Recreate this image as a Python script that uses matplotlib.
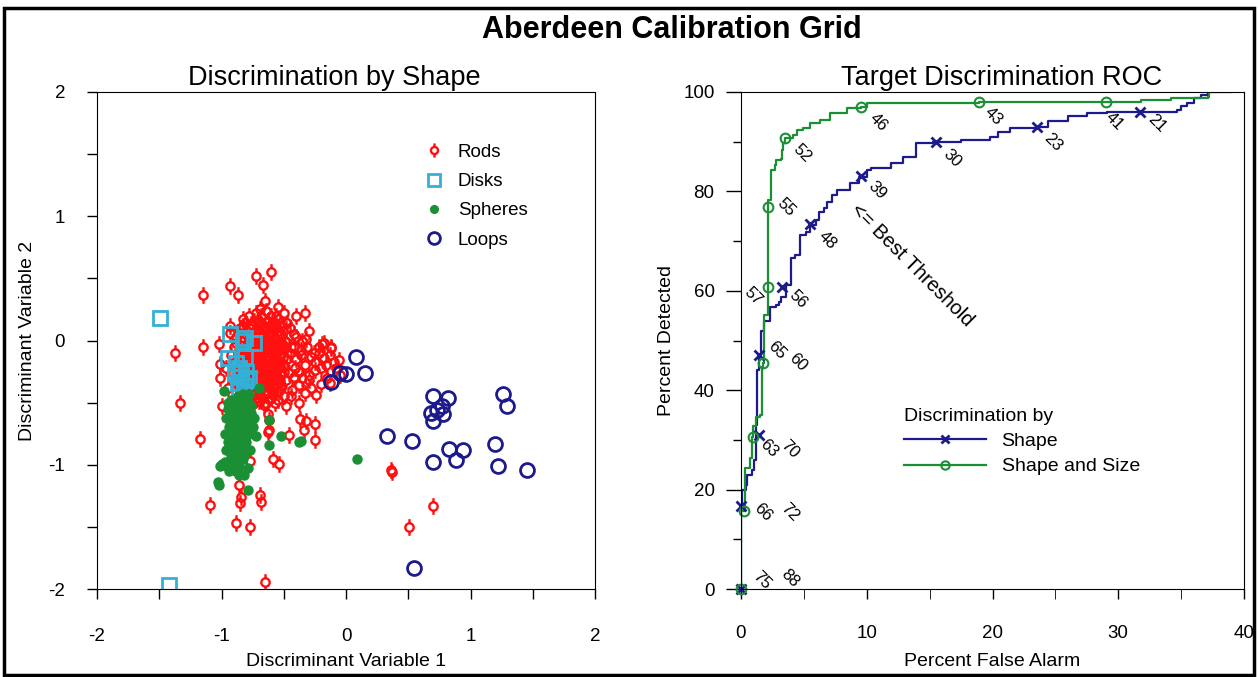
import matplotlib.pyplot as plt
import numpy as np
from matplotlib.path import Path
from matplotlib.lines import Line2D
from matplotlib.patches import Rectangle

plt.rcParams['font.family'] = ['Liberation Sans', 'DejaVu Sans']
plt.rcParams['axes.unicode_minus'] = False

# ---- scatter data (Discriminant Variable 1, Discriminant Variable 2) ----
rods_x = [-0.60, -0.72, -0.67, -0.93, -0.87, -1.15, -0.65, -0.55, -0.50, -0.56, -0.40, -0.33,
          -0.83, -0.70, -0.93, -0.62, -0.48, -0.32, -1.15, -1.37, -1.02, -0.19, -0.12, -1.01,
          -1.01, -1.33, -1.00, -1.17, -0.63, -0.63, -0.62, -0.46, -0.25, -0.32, -0.34, -0.25,
          -0.37, -0.77, -0.59, -0.54, -0.86, -0.84, -0.69, -1.09, -0.85, -0.68, -0.88, -0.77,
          -0.65, 0.36, 0.37, 0.70, 0.51,
          -0.48, -0.42, -0.36, -0.26, -0.18, -0.12, -0.18, -0.10, -0.06, -0.25, -0.33, -0.41,
          -0.46, -0.25, -0.30, -0.38, -0.33, -0.24, -0.28, -0.48, -0.52, -0.44, -0.38, -0.48,
          -0.57, -0.62, -0.05, -0.08, -0.15, -0.20, -0.45, -0.40, -0.35, -0.52, -0.45, -0.40,
          -0.13, -0.22, -0.30,
          -0.85, -0.80, -0.75, -0.70, -0.65, -0.60, -0.55, -0.88, -0.82, -0.77, -0.72, -0.67,
          -0.62, -0.57, -0.52, -0.90, -0.85, -0.79, -0.74, -0.69, -0.64, -0.59, -0.54, -0.50,
          -0.92, -0.87, -0.82, -0.76, -0.71, -0.66, -0.61, -0.56, -0.51, -0.89, -0.84, -0.78,
          -0.73, -0.68, -0.63, -0.58, -0.53, -0.91, -0.86, -0.80, -0.75, -0.70, -0.65, -0.60,
          -0.55, -0.88, -0.83, -0.77, -0.72, -0.67, -0.62, -0.57, -0.85, -0.79, -0.74, -0.69,
          -0.64, -0.59, -0.95, -0.96, -0.93, -0.80, -0.70, -0.66, -0.74, -0.68, -0.63, -0.58,
          -0.64, -0.78, -0.88,
          -0.83, -0.78, -0.73, -0.68, -0.63, -0.58, -0.86, -0.80, -0.75, -0.70, -0.65, -0.60,
          -0.55, -0.88, -0.82, -0.77, -0.72, -0.67, -0.62, -0.57, -0.52, -0.85, -0.80, -0.74,
          -0.69, -0.64, -0.59, -0.54, -0.87, -0.81, -0.76, -0.71, -0.66, -0.61, -0.56, -0.84,
          -0.79, -0.73, -0.68, -0.63, -0.58, -0.53, -0.86, -0.81, -0.75, -0.70, -0.65, -0.60,
          -0.77, -0.72, -0.67, -0.62, -0.50, -0.47, -0.44, -0.42, -0.38, -0.36, -0.31, -0.28,
          -0.22, -0.20, -0.35, -0.43, -0.50, -0.53, -0.49, -0.47, -0.55, -0.60, -0.69, -0.72,
          -0.52, -0.42, -0.30, -0.16, -0.13,
          -0.81, -0.76, -0.71, -0.66, -0.61, -0.56,
          -0.84, -0.79, -0.74, -0.69, -0.64, -0.59, -0.54,
          -0.86, -0.81, -0.76, -0.71, -0.66, -0.61, -0.56, -0.51,
          -0.83, -0.78, -0.73, -0.68, -0.63, -0.58, -0.53,
          -0.80, -0.75, -0.70, -0.65, -0.60, -0.55, -0.50,
          -0.82, -0.77, -0.72, -0.67, -0.62, -0.57, -0.52,
          -0.79, -0.74, -0.69, -0.64, -0.59, -0.54,
          -0.75, -0.70, -0.65, -0.60, -0.55]
rods_y = [0.55, 0.52, 0.45, 0.44, 0.37, 0.37, 0.32, 0.27, 0.22, 0.20, 0.20, 0.22,
          0.17, 0.16, 0.12, 0.12, 0.09, 0.01, -0.05, -0.10, -0.03, -0.03, -0.06, -0.19,
          -0.30, -0.50, -0.53, -0.79, -0.59, -0.74, -0.72, -0.76, -0.80, -0.65, -0.72, -0.67,
          -0.63, -0.97, -0.95, -0.99, -1.16, -1.26, -1.24, -1.32, -1.31, -1.30, -1.47, -1.50,
          -1.94, -1.04, -1.06, -1.33, -1.50,
          -0.01, -0.05, -0.08, -0.10, -0.02, -0.05, -0.14, -0.17, -0.16, -0.17, -0.20, -0.22,
          -0.26, -0.24, -0.32, -0.36, -0.42, -0.44, -0.38, -0.32, -0.38, -0.45, -0.50, -0.53,
          -0.50, -0.64, -0.28, -0.22, -0.30, -0.35, -0.10, -0.15, 0.00, 0.05, 0.10, 0.03,
          -0.34, -0.05, 0.08,
          0.10, 0.08, 0.12, 0.09, 0.10, 0.07, 0.08, 0.03, 0.02, 0.04, 0.01, 0.03,
          0.00, 0.02, -0.01, -0.05, -0.04, -0.06, -0.03, -0.07, -0.04, -0.08, -0.05, -0.07,
          -0.12, -0.10, -0.13, -0.11, -0.14, -0.10, -0.13, -0.11, -0.14, -0.18, -0.20, -0.17,
          -0.21, -0.18, -0.22, -0.19, -0.21, -0.26, -0.27, -0.25, -0.28, -0.26, -0.29, -0.27,
          -0.30, -0.34, -0.33, -0.35, -0.32, -0.36, -0.34, -0.37, -0.41, -0.42, -0.40, -0.43,
          -0.41, -0.44, -0.38, -0.22, 0.06, -0.48, -0.49, -0.52, 0.16, 0.20, 0.16, 0.14,
          0.24, 0.20, -0.47,
          0.12, 0.10, 0.06, 0.13, 0.05, 0.10, 0.06, 0.05, 0.00, 0.04, -0.01, 0.03,
          -0.02, -0.02, -0.08, -0.03, -0.09, -0.05, -0.09, -0.06, -0.10, -0.15, -0.10, -0.16,
          -0.12, -0.16, -0.15, -0.17, -0.23, -0.20, -0.24, -0.23, -0.21, -0.24, -0.25, -0.29,
          -0.31, -0.30, -0.31, -0.28, -0.32, -0.33, -0.37, -0.39, -0.37, -0.39, -0.35, -0.40,
          -0.45, -0.46, -0.46, -0.47, -0.20, -0.15, -0.05, -0.29, -0.25, -0.12, -0.05, -0.13,
          -0.10, -0.22, -0.30, -0.40, -0.45, -0.27, 0.00, 0.14, 0.17, 0.20, 0.25, 0.22,
          0.12, 0.05, -0.28, -0.20, -0.12,
          0.14, 0.13, 0.15, 0.11, 0.12, 0.13,
          0.00, -0.01, 0.02, -0.02, 0.01, -0.03, 0.04,
          -0.08, -0.06, -0.07, -0.05, -0.07, -0.06, -0.08, -0.04,
          -0.16, -0.14, -0.12, -0.15, -0.13, -0.17, -0.12,
          -0.22, -0.20, -0.19, -0.24, -0.20, -0.23, -0.25,
          -0.31, -0.28, -0.34, -0.29, -0.31, -0.28, -0.36,
          -0.38, -0.42, -0.37, -0.43, -0.36, -0.41,
          -0.51, -0.44, -0.50, -0.46, -0.48]

disks_x = [-1.49, -1.42, -0.93, -0.81, -0.74, -0.83, -0.95, -0.88, -0.81, -0.86, -0.80,
           -0.89, -0.84, -0.78, -0.87, -0.82, -0.86, -0.80, -0.84]
disks_y = [0.18, -1.97, 0.05, 0.02, -0.02, 0.00, -0.14, -0.18, -0.13, -0.22, -0.25,
           -0.26, -0.29, -0.30, -0.34, -0.37, -0.40, -0.32, -0.25]

spheres_x = [-0.87, -0.84, -0.80, -0.86, -0.82, -0.78, -0.88, -0.84, -0.80, -0.76, -0.90,
             -0.86, -0.82, -0.78, -0.92, -0.88, -0.84, -0.80, -0.90, -0.86, -0.82, -0.78,
             -0.92, -0.88, -0.84, -0.80, -0.91, -0.87, -0.83, -0.93, -0.89, -0.85, -0.97,
             -0.93, -0.89, -0.85, -0.95, -0.90, -0.86, -1.00, -1.03, -1.02, -0.79, -0.79,
             -0.62, -0.72, -0.52, -0.38, -0.62, -0.70, -0.98, -0.36, 0.09, -0.95, -0.75,
             -0.77, -0.77,
             -0.95, -0.92, -0.90, -0.93, -0.96, -0.94, -0.97, -0.95, -0.96, -0.92, -0.98,
             -1.01, -0.94, -0.88, -0.82, -0.86, -0.76, -0.74, -0.76, -0.78, -0.83, -0.81,
             -0.83, -0.80, -0.87, -0.89, -0.85, -0.87, -0.85, -0.89]
spheres_y = [-0.45, -0.47, -0.46, -0.50, -0.52, -0.50, -0.55, -0.56, -0.55, -0.58, -0.60,
             -0.62, -0.60, -0.63, -0.66, -0.68, -0.66, -0.69, -0.72, -0.74, -0.72, -0.75,
             -0.78, -0.80, -0.78, -0.82, -0.85, -0.87, -0.85, -0.90, -0.92, -0.90, -0.98,
             -0.97, -0.99, -0.96, -1.02, -1.04, -1.02, -0.99, -1.14, -1.16, -1.20, -1.03,
             -0.64, -0.77, -0.77, -0.82, -0.84, -0.38, -0.41, -0.81, -0.95, -0.55, -0.70,
             -0.88, -0.53,
             -0.50, -0.48, -0.52, -0.57, -0.62, -0.70, -0.75, -0.82, -0.88, -0.94, -1.00,
             -1.01, -1.05, -1.05, -1.08, -1.08, -0.66, -0.62, -0.53, -0.43, -0.43, -0.91,
             -0.95, -0.77, -0.57, -0.64, -0.70, -0.76, -0.83, -0.88]

loops_x = [0.08, 0.15, -0.05, 0.00, -0.12, 0.70, 0.82, 0.77, 0.73, 0.68, 0.78, 0.70,
           1.26, 1.29, 0.33, 0.53, 0.83, 0.94, 0.88, 0.70, 1.20, 1.22, 1.45, 0.55]
loops_y = [-0.13, -0.26, -0.26, -0.27, -0.33, -0.45, -0.46, -0.53, -0.56, -0.58, -0.59, -0.65,
           -0.43, -0.53, -0.77, -0.81, -0.87, -0.88, -0.96, -0.98, -0.83, -1.01, -1.04, -1.83]

# ---- ROC curves (Percent False Alarm, Percent Detected) ----
shape_fa = [0, 0, 0.1, 0.4, 0.5, 0.9, 1.0, 1.2, 1.2, 1.3, 1.3, 1.4, 1.6, 1.6, 1.8, 2.3,
            2.8, 3.0, 3.2, 3.6, 4.0, 4.0, 4.3, 4.7, 4.7, 5.2, 5.5, 6.0, 6.2, 6.6, 6.8,
            7.2, 7.6, 8.7, 9.4, 10.0, 10.3, 11.9, 12.9, 13.9, 15.3, 15.5, 17.5, 19.8, 20.4,
            21.4, 23.5, 24.4, 26.0, 27.5, 29.1, 31.7, 34.7, 35.0, 35.5, 36.0, 36.6, 37.1, 39.0]
shape_det = [0, 16.7, 20, 21, 23, 24, 26, 27, 33, 35, 44, 47, 47, 52, 54, 56.8,
             57.1, 57.8, 58.8, 61.2, 62.5, 66.5, 67.2, 68.5, 71.2, 71.9, 73.2, 74.2, 75.9, 76.6, 77.9,
             79.3, 80.3, 81.6, 82.9, 84.3, 84.8, 85.8, 87.0, 89.7, 89.9, 90.0, 90.3, 90.9, 92.0,
             92.7, 93.0, 94.2, 95.2, 95.7, 95.9, 96.0, 96.4, 97.1, 97.7, 98.7, 99.4, 99.9, 99.9]
size_fa = [0, 0, 0.3, 0.3, 0.35, 0.72, 0.9, 0.98, 1.2, 1.5, 1.65, 1.73, 1.83, 2.18, 2.18,
           2.36, 2.36, 2.7, 2.79, 3.2, 3.24, 3.37, 3.5, 4.17, 4.44, 4.96, 5.5, 6.3, 7.1, 8.4,
           9.56, 10.0, 18.96, 29.06, 31.8, 34.2, 37.1, 37.2]
size_det = [0, 15.7, 15.7, 24, 24.3, 26.3, 30.6, 32.7, 34.7, 35, 44.7, 45.5, 55.1, 55.5, 78.3,
            78.6, 84.3, 85.3, 86.3, 86.6, 88.3, 89.7, 90.7, 91.3, 92.4, 92.7, 93.7, 94.4, 95.7, 96.7,
            97.0, 97.7, 97.9, 97.9, 98.3, 98.7, 99.0, 100.0]

# threshold markers and their labels
shape_mark_fa = [0, 0, 1.46, 1.46, 3.3, 5.5, 9.56, 15.5, 23.5, 31.7]
shape_mark_det = [0, 16.7, 31, 47.1, 60.7, 73.4, 83, 90, 93, 96]
size_mark_fa = [0, 0.27, 0.93, 1.73, 2.18, 2.18, 3.5, 9.56, 18.96, 29.06]
size_mark_det = [0, 15.7, 30.6, 45.5, 60.8, 76.8, 90.7, 97.0, 97.9, 97.9]

thr_labels = ['75', '88', '66', '72', '63', '70', '65', '60', '57', '56', '55', '48',
              '52', '39', '46', '30', '23', '43', '41', '21']
thr_fa = [1.67, 3.9, 1.75, 3.9, 2.23, 3.9, 2.87, 4.54, 0.96, 4.54, 3.6, 6.85,
          4.86, 10.8, 10.9, 16.8, 24.8, 20.1, 29.7, 33.1]
thr_det = [1.8, 2.2, 15.5, 15.5, 28.2, 28.0, 48.1, 45.7, 58.8, 58.3, 76.7, 70.2,
           87.7, 80.3, 93.8, 86.7, 89.9, 95.0, 94.0, 93.6]

red = '#ff1010'
cyan = '#33b0d6'
green = '#1b8f34'
navy = '#1c1a8c'


def rod_marker():
    circle = Path.unit_circle()
    verts = list(circle.vertices * 0.5) + [(0, 0.5), (0, 1), (0, -0.5), (0, -1)]
    codes = list(circle.codes) + [Path.MOVETO, Path.LINETO, Path.MOVETO, Path.LINETO]
    return Path(verts, codes)


fig = plt.figure(figsize=(12.58, 6.77), dpi=100)
fig.patches.append(Rectangle((0.003, 0.003), 0.994, 0.985, transform=fig.transFigure,
                             fill=False, lw=2.5, ec='black'))
fig.text(0.534, 0.956, 'Aberdeen Calibration Grid', ha='center', va='center',
         fontsize=22, fontweight='bold')

# ---- left: scatter ----
ax1 = fig.add_axes([97 / 1258, 88 / 677, 498 / 1258, 497 / 677])
ax1.plot(rods_x, rods_y, ls='none', marker=rod_marker(), ms=12, mfc='none', mec=red,
         mew=1.7, label='Rods')
ax1.plot(disks_x, disks_y, ls='none', marker='s', ms=9.5, mfc='none', mec=cyan,
         mew=2, label='Disks')
ax1.plot(spheres_x, spheres_y, ls='none', marker='o', ms=6.5, mfc=green, mec=green,
         label='Spheres')
ax1.plot(loops_x, loops_y, ls='none', marker='o', ms=10, mfc='none', mec=navy,
         mew=2, label='Loops')
ax1.set_xlim(-2, 2)
ax1.set_ylim(-2, 2)
ax1.set_xticks([-2, -1, 0, 1, 2])
ax1.set_yticks([-2, -1, 0, 1, 2])
ax1.set_xticks(np.arange(-2, 2.01, 0.5), minor=True)
ax1.set_yticks(np.arange(-2, 2.01, 0.5), minor=True)
ax1.tick_params(which='both', direction='out', length=7, width=1, labelsize=13.5)
ax1.tick_params(axis='x', which='major', pad=21)
ax1.tick_params(axis='y', which='major', pad=16)
ax1.set_xlabel('Discriminant Variable 1', fontsize=14, labelpad=5.5)
ax1.set_ylabel('Discriminant Variable 2', fontsize=14, labelpad=9)
ax1.set_title('Discrimination by Shape', fontsize=19.5, pad=5, x=0.476)
ax1.legend(loc='upper left', bbox_to_anchor=(0.615, 0.93), frameon=False, fontsize=13.5,
           handletextpad=0.5, labelspacing=0.65, handlelength=1.5, markerscale=0.85)

# ---- right: ROC ----
ax2 = fig.add_axes([741 / 1258, 88 / 677, 503 / 1258, 497 / 677])
ax2.plot(shape_fa, shape_det, color=navy, lw=1.6, drawstyle='steps-post')
ax2.plot(size_fa, size_det, color=green, lw=1.6, drawstyle='steps-post')
ax2.plot(shape_mark_fa, shape_mark_det, ls='none', marker='x', ms=7, mew=2,
         color=navy, clip_on=False)
ax2.plot(size_mark_fa, size_mark_det, ls='none', marker='o', ms=7, mew=1.5,
         mfc='none', mec=green, clip_on=False)
for lab, xx, yy in zip(thr_labels, thr_fa, thr_det):
    ax2.text(xx, yy, lab, rotation=-45, rotation_mode='anchor', ha='center',
             va='center', fontsize=12)
ax2.text(13.6, 65.2, '<= Best Threshold', rotation=-45, rotation_mode='anchor',
         ha='center', va='center', fontsize=14.5)
ax2.set_xlim(0, 40)
ax2.set_ylim(0, 100)
ax2.set_xticks(np.arange(0, 41, 10))
ax2.set_xticks(np.arange(0, 41, 5), minor=True)
ax2.set_yticks(np.arange(0, 101, 20))
ax2.set_yticks(np.arange(0, 101, 10), minor=True)
ax2.tick_params(which='major', direction='out', length=11, width=1, labelsize=13.5)
ax2.tick_params(axis='y', which='minor', direction='out', length=6, width=1)
ax2.tick_params(axis='x', which='both', length=7)
ax2.tick_params(axis='x', which='major', pad=19)
ax2.tick_params(axis='y', which='major', pad=8)
ax2.set_xlabel('Percent False Alarm', fontsize=14, labelpad=8)
ax2.set_ylabel('Percent Detected', fontsize=14, labelpad=6)
ax2.set_title('Target Discrimination ROC', fontsize=19.5, pad=5, x=0.518)
handles = [Line2D([], [], color=navy, lw=1.6, marker='x', ms=6, mew=2),
           Line2D([], [], color=green, lw=1.6, marker='o', ms=6, mfc='none', mew=1.5)]
ax2.legend(handles, ['Shape', 'Shape and Size'], title='Discrimination by',
           title_fontsize=14, fontsize=14, frameon=False, alignment='left',
           loc='upper left', bbox_to_anchor=(0.29, 0.40), handlelength=4.2,
           handletextpad=0.8, labelspacing=0.4)

fig.savefig('out.png', dpi=100)
